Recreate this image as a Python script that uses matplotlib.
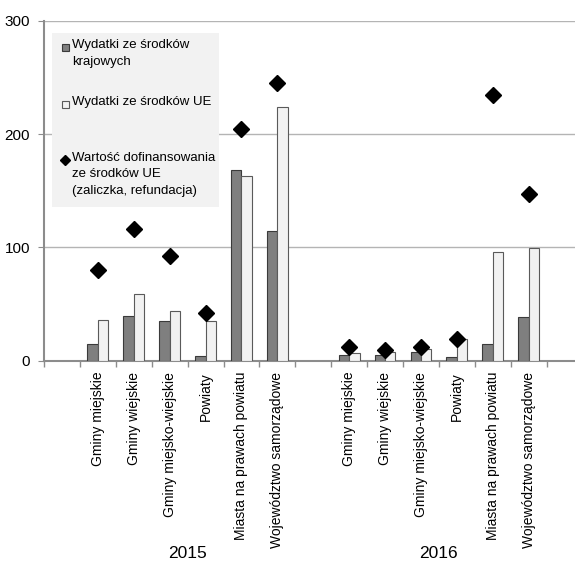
import matplotlib
matplotlib.use("Agg")
import matplotlib.pyplot as plt
from matplotlib.patches import Rectangle
import numpy as np

plt.rcParams['font.family'] = ['Liberation Sans', 'DejaVu Sans']

# categories (same for both years)
categories = ["Gminy miejskie", "Gminy wiejskie", "Gminy miejsko-wiejskie",
              "Powiaty", "Miasta na prawach powiatu", "Województwo samorządowe"]
years = ["2015", "2016"]

# values
krajowe = {"2015": [14.5, 39.5, 35, 4, 168, 114],
           "2016": [5, 5, 7.5, 3.5, 14.5, 39]}
ue = {"2015": [36, 58.5, 43.5, 35, 163, 224],
      "2016": [7, 7.5, 10.5, 19, 95.5, 99]}
dofinansowanie = {"2015": [80, 116.5, 92.5, 42.5, 204, 245],
                  "2016": [12, 9.5, 12.5, 19, 234, 147]}
leg_labels = ["Wydatki ze środków\nkrajowych",
              "Wydatki ze środków UE",
              "Wartość dofinansowania\nze środków UE\n(zaliczka, refundacja)"]

W, H = 575, 563
fig = plt.figure(figsize=(W / 100, H / 100), dpi=100)
ax = fig.add_axes([44 / W, 202.3 / H, 531 / W, 340 / H])


def px(x, y):
    # pixel position (from top-left) -> figure fraction
    return x / W, 1 - y / H


dark, dark_edge = "#7f7f7f", "#3a3a3a"
light, light_edge = "#f2f2f2", "#5a5a5a"
grey = "#8c8c8c"
bw = 0.29
centers_all = []
labels_all = []
for k, yr in enumerate(years):
    centers = np.arange(len(categories)) + 1.5 + k * 7
    ax.bar(centers - bw / 2, krajowe[yr], width=bw, color=dark,
           edgecolor=dark_edge, linewidth=0.8, zorder=3)
    ax.bar(centers + bw / 2, ue[yr], width=bw, color=light,
           edgecolor=light_edge, linewidth=0.8, zorder=3)
    ax.plot(centers, dofinansowanie[yr], linestyle="none", marker="D",
            markersize=8.5, color="black", zorder=4)
    centers_all.extend(centers)
    labels_all.extend(categories)
    ax.text(centers.mean(), -0.566, yr, transform=ax.get_xaxis_transform(),
            ha="center", va="center", fontsize=12.5)

ax.set_xlim(0, 14.79)
ax.set_ylim(0, 300)
ax.set_yticks([0, 100, 200, 300])
ax.set_xticks(np.arange(0, 15))
ax.set_xticklabels([])
ax.set_xticks(centers_all, minor=True)
ax.set_xticklabels(labels_all, minor=True, rotation=90, va="top", ha="center",
                   fontsize=10)
ax.tick_params(axis="x", which="minor", length=0, pad=8)
ax.tick_params(axis="x", which="major", length=4, color=grey, width=1)
ax.tick_params(axis="y", length=4, color=grey, labelsize=11, pad=6)

ax.grid(axis="y", color="#b4b4b4", linewidth=1, zorder=0)
ax.set_axisbelow(True)
for side in ["top", "right"]:
    ax.spines[side].set_visible(False)
for side in ["left", "bottom"]:
    ax.spines[side].set_color(grey)
    ax.spines[side].set_linewidth(1.5)

# legend drawn by hand (uneven spacing as in the reference)
tf = fig.transFigure
x0, y0 = px(52, 207)
x1, y1 = px(219, 33)
ax.add_patch(Rectangle((x0, y0), x1 - x0, y1 - y0, transform=tf,
                       facecolor="#f2f2f2", edgecolor="none", zorder=2,
                       clip_on=False))
for (yc, fc, ec) in [(47, dark, dark_edge), (104, light, light_edge)]:
    sx, sy = px(61.5, yc + 3.5)
    ax.add_patch(Rectangle((sx, sy), 7 / W, 7 / H, transform=tf, facecolor=fc,
                           edgecolor=ec, linewidth=0.8, zorder=5,
                           clip_on=False))
ax.plot(*px(65, 160), transform=tf, marker="D", markersize=5,
        color="black", linestyle="none", zorder=5, clip_on=False)
for (ty, lab) in zip([39, 96, 152], leg_labels):
    ax.text(*px(72, ty), lab, transform=tf, ha="left", va="top",
            fontsize=9.5, linespacing=1.5, zorder=5)

fig.savefig("out.png", dpi=100)
